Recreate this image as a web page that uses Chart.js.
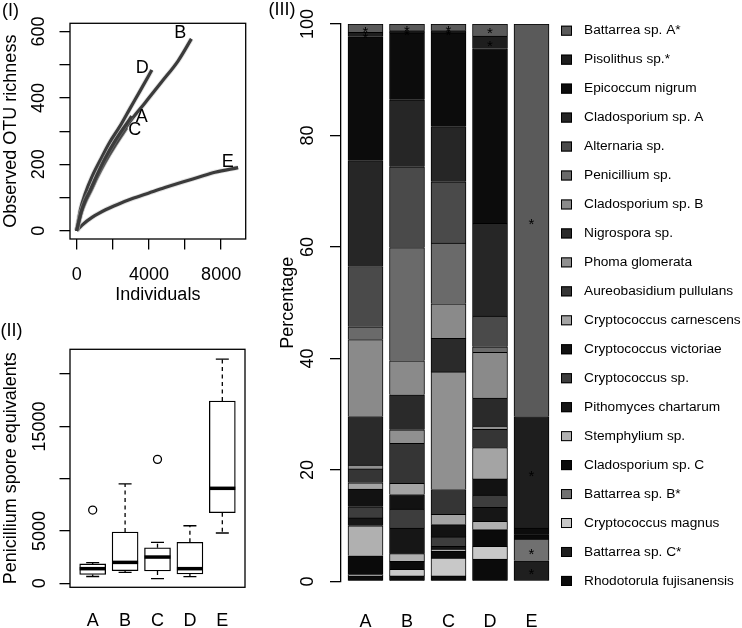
<!DOCTYPE html>
<html>
<head>
<meta charset="utf-8">
<script src="https://cdn.jsdelivr.net/npm/chart.js@4.4.1/dist/chart.umd.min.js"></script>
<style>
  body { margin: 0; background: #fff; }
  #wrap { position: relative; width: 742px; height: 628px; overflow: hidden; background: #fff; }
  canvas { position: absolute; }
  #rare { left: 0; top: 0; }
  #spore { left: 0; top: 310px; }
  #comp { left: 268px; top: 0; }
</style>
</head>
<body>
<div id="wrap">
  <canvas id="rare" width="260" height="310"></canvas>
  <canvas id="spore" width="260" height="318"></canvas>
  <canvas id="comp" width="474" height="628"></canvas>
</div>
<script>
const samples = ['A', 'B', 'C', 'D', 'E'];

// (I) rarefaction curves: [individuals, OTUs]
const curveA = [[0,0],[250,57],[480,92],[750,122],[1125,168],[1590,220],[2140,272],[2600,310],[3050,345]];
const curveB = [[0,0],[250,55],[480,88],[750,118],[1125,163],[1590,213],[2140,262],[2900,325],[3780,385],[4700,448],[5620,512],[6350,578]];
const curveC = [[0,0],[250,55],[480,88],[750,117],[1125,160],[1590,208],[2140,258],[2770,310]];
const curveD = [[0,0],[200,62],[480,113],[850,163],[1310,213],[1790,263],[2400,315],[2950,368],[3520,422],[4160,484]];
const curveE = [[0,0],[300,17],[850,40],[1600,63],[2300,80],[3050,96],[3970,113],[4890,130],[5820,146],[6740,161],[7660,176],[8940,190]];
const indivTicks = [0, 2000, 4000, 6000, 8000];
const indivLabels = [0, 4000, 8000];
const richTicks = [0, 100, 200, 300, 400, 500, 600];
const richLabels = [0, 200, 400, 600];

// (II) Penicillium spore equivalents, box plot stats per sample
const sporeMin = [650, 1050, 440, 630, 4810];
const sporeQ1 = [850, 1200, 1180, 890, 6750];
const sporeMed = [1400, 2000, 2510, 1400, 9080];
const sporeQ3 = [1850, 4900, 3400, 3920, 17430];
const sporeMax = [1970, 9500, 3920, 5500, 21440];
const outlierSample = ['A', 'C'];
const outlierValue = [7000, 11850];
const sporeTicks = [0, 5000, 10000, 15000, 20000];
const sporeLabels = [0, 5000, 15000];

// (III) composition in %, stacked bottom -> top in this order
const taxa = ['Rhodotorula fujisanensis', 'Battarrea sp. C*', 'Cryptococcus magnus', 'Battarrea sp. B*',
  'Cladosporium sp. C', 'Stemphylium sp.', 'Pithomyces chartarum', 'Cryptococcus sp.',
  'Cryptococcus victoriae', 'Cryptococcus carnescens', 'Aureobasidium pullulans', 'Phoma glomerata',
  'Nigrospora sp.', 'Cladosporium sp. B', 'Penicillium sp.', 'Alternaria sp.',
  'Cladosporium sp. A', 'Epicoccum nigrum', 'Pisolithus sp.*', 'Battarrea sp. A*'];
const taxaColors = ['#0b0b0b', '#1f1f1f', '#c8c8c8', '#707070', '#0a0a0a', '#b0b0b0', '#161616', '#3d3d3d',
  '#121212', '#a4a4a4', '#353535', '#909090', '#2a2a2a', '#8a8a8a', '#6a6a6a', '#4a4a4a',
  '#262626', '#0c0c0c', '#1e1e1e', '#5a5a5a'];
const shareA = [1.0, 0, 0.2, 0, 3.4, 5.4, 1.4, 2.0, 3.2, 1.1, 2.5, 0.7, 8.7, 13.8, 2.3, 10.8, 19.0, 22.2, 0.8, 1.5];
const shareB = [1.0, 0, 1.2, 0, 1.4, 1.4, 4.6, 3.4, 2.6, 2.0, 7.2, 2.4, 6.3, 6.1, 20.3, 14.5, 12.0, 12.0, 0.4, 1.2];
const shareC = [1.0, 0, 3.2, 0, 1.2, 0.4, 0.5, 1.7, 2.2, 1.85, 4.45, 21.1, 6.0, 6.2, 10.9, 11.0, 9.9, 16.8, 0.4, 1.2];
const shareD = [4.0, 0, 2.3, 0, 3.0, 1.5, 2.5, 2.2, 2.9, 5.6, 3.3, 0.6, 5.0, 8.2, 1.0, 5.5, 16.65, 31.35, 2.25, 2.15];
const shareE = [0, 3.7, 0, 3.9, 0.8, 0, 0, 0, 0, 0, 0, 0, 0, 0, 0, 0, 0, 1.2, 20.0, 70.4];
const pctTicks = [0, 20, 40, 60, 80, 100];

const FONT = '"Liberation Sans", Arial, Helvetica, sans-serif';
Chart.defaults.font.family = FONT;
Chart.defaults.font.size = 18;
Chart.defaults.color = '#000';
Chart.defaults.animation = false;
Chart.defaults.plugins.legend.display = false;
Chart.defaults.plugins.tooltip.enabled = false;

const setTicks = list => axis => { axis.ticks = list.map(v => ({ value: v })); };
const onlySome = list => v => list.includes(v) ? String(v) : '';
const tickGrid = len => ({ drawOnChartArea: false, tickLength: len, color: '#000', lineWidth: 1.3 });

const frame = {
  id: 'frame',
  afterDraw(chart) {
    const { ctx, chartArea: a } = chart;
    ctx.save();
    ctx.strokeStyle = '#000';
    ctx.lineWidth = 1.3;
    ctx.strokeRect(a.left, a.top, a.right - a.left, a.bottom - a.top);
    ctx.restore();
  }
};

const tag = (text, x, y) => ({
  id: 'tag',
  afterDraw(chart) {
    const ctx = chart.ctx;
    ctx.save();
    ctx.font = '18px ' + FONT;
    ctx.fillStyle = '#000';
    ctx.textAlign = 'center';
    ctx.textBaseline = 'middle';
    ctx.fillText(text, x, y);
    ctx.restore();
  }
});

// ---------- (I) rarefaction ----------
const tagShift = { A: [10, 1], B: [-11, -6], C: [8, 2], D: [-9.5, -2], E: [-10.4, -6] };
const rareSets = [];
[curveA, curveB, curveC, curveD, curveE].forEach((pts, i) => {
  const data = pts.map(([x, y]) => ({ x, y }));
  rareSets.push({ data, borderColor: 'rgba(170,170,170,0.35)', borderWidth: 5, pointRadius: 0, cubicInterpolationMode: 'monotone' });
  rareSets.push({ label: samples[i], data, borderColor: '#000', borderWidth: 3.2, pointRadius: 0, cubicInterpolationMode: 'monotone' });
});

const curveTags = {
  id: 'curveTags',
  afterDatasetsDraw(chart) {
    const ctx = chart.ctx;
    ctx.save();
    ctx.font = '18px ' + FONT;
    ctx.fillStyle = '#000';
    ctx.textAlign = 'center';
    ctx.textBaseline = 'middle';
    chart.data.datasets.forEach((ds, i) => {
      if (!ds.label) return;
      const pts = chart.getDatasetMeta(i).data;
      const end = pts[pts.length - 1];
      const [dx, dy] = tagShift[ds.label];
      ctx.fillText(ds.label, end.x + dx, end.y + dy);
    });
    ctx.restore();
  }
};

new Chart(document.getElementById('rare'), {
  type: 'line',
  data: { datasets: rareSets },
  options: {
    responsive: false,
    maintainAspectRatio: false,
    layout: { autoPadding: false, padding: { left: 0, top: 23.3, right: 14.3, bottom: 4 } },
    scales: {
      x: {
        type: 'linear', min: -370, max: 9360,
        afterBuildTicks: setTicks(indivTicks),
        afterFit: s => { s.height = 67; },
        ticks: { autoSkip: false, maxRotation: 0, padding: 14.7, callback: onlySome(indivLabels) },
        grid: tickGrid(10.5),
        border: { display: false },
        title: { display: true, text: 'Individuals', padding: { top: 0, bottom: 0 } }
      },
      y: {
        type: 'linear', min: -25, max: 625,
        afterBuildTicks: setTicks(richTicks),
        afterFit: s => { s.width = 70; },
        ticks: { autoSkip: false, minRotation: 90, maxRotation: 90, crossAlign: 'center', padding: 5.5, callback: onlySome(richLabels) },
        grid: tickGrid(10.5),
        border: { display: false },
        title: { display: true, text: 'Observed OTU richness', padding: { top: 0, bottom: 0 } }
      }
    }
  },
  plugins: [frame, curveTags, tag('(I)', 10.5, 11.5)]
});

// ---------- (II) box plot ----------
const whiskers = {
  id: 'whiskers',
  afterDatasetsDraw(chart) {
    const { ctx, scales: { x, y } } = chart;
    ctx.save();
    ctx.strokeStyle = '#000';
    samples.forEach((s, i) => {
      const cx = x.getPixelForValue(i + 1);
      ctx.lineWidth = 1.3;
      ctx.setLineDash([4, 3.5]);
      ctx.beginPath();
      ctx.moveTo(cx, y.getPixelForValue(sporeQ3[i]));
      ctx.lineTo(cx, y.getPixelForValue(sporeMax[i]));
      ctx.moveTo(cx, y.getPixelForValue(sporeQ1[i]));
      ctx.lineTo(cx, y.getPixelForValue(sporeMin[i]));
      ctx.stroke();
      ctx.setLineDash([]);
      ctx.beginPath();
      [sporeMax[i], sporeMin[i]].forEach(v => {
        const py = y.getPixelForValue(v);
        ctx.moveTo(cx - 6.5, py);
        ctx.lineTo(cx + 6.5, py);
      });
      ctx.stroke();
      const pm = y.getPixelForValue(sporeMed[i]);
      ctx.lineWidth = 3.5;
      ctx.beginPath();
      ctx.moveTo(cx - 13, pm);
      ctx.lineTo(cx + 13, pm);
      ctx.stroke();
    });
    ctx.restore();
  }
};

new Chart(document.getElementById('spore'), {
  type: 'bar',
  data: {
    datasets: [
      {
        data: samples.map((s, i) => ({ x: i + 1, y: [sporeQ1[i], sporeQ3[i]] })),
        backgroundColor: '#fff', borderColor: '#000', borderWidth: 1.3, borderSkipped: false, barThickness: 26
      },
      {
        type: 'scatter',
        data: outlierSample.map((s, i) => ({ x: samples.indexOf(s) + 1, y: outlierValue[i] })),
        pointRadius: 4, pointBorderWidth: 1.3, pointBorderColor: '#000', pointBackgroundColor: 'rgba(0,0,0,0)'
      }
    ]
  },
  options: {
    responsive: false,
    maintainAspectRatio: false,
    layout: { autoPadding: false, padding: { left: 0, top: 39.3, right: 15, bottom: 0 } },
    scales: {
      x: {
        type: 'linear', min: 0.3, max: 5.7, offset: false,
        afterBuildTicks: setTicks([1, 2, 3, 4, 5]),
        afterFit: s => { s.height = 40.7; },
        ticks: { autoSkip: false, maxRotation: 0, padding: 22.9, callback: v => samples[v - 1] },
        grid: { display: false, drawTicks: false, offset: false },
        border: { display: false }
      },
      y: {
        type: 'linear', min: -382, max: 22371,
        afterBuildTicks: setTicks(sporeTicks),
        afterFit: s => { s.width = 70; },
        ticks: { autoSkip: false, minRotation: 90, maxRotation: 90, crossAlign: 'center', padding: -5.5, callback: onlySome(sporeLabels) },
        grid: tickGrid(10.5),
        border: { display: false },
        title: { display: true, text: 'Penicillium spore equivalents', padding: { top: 0, bottom: 0 } }
      }
    }
  },
  plugins: [frame, whiskers, tag('(II)', 11.5, 21)]
});

// ---------- (III) composition ----------
const shares = [shareA, shareB, shareC, shareD, shareE];
const compSets = taxa.map((name, k) => ({
  label: name,
  data: samples.map((s, j) => ({ x: j + 1, y: shares[j][k] })),
  backgroundColor: taxaColors[k],
  borderColor: '#000',
  borderWidth: 1,
  borderSkipped: 'start',
  barThickness: 35
}));

const stars = {
  id: 'stars',
  afterDatasetsDraw(chart) {
    const ctx = chart.ctx;
    ctx.save();
    ctx.font = '15px ' + FONT;
    ctx.fillStyle = '#000';
    ctx.textAlign = 'center';
    ctx.textBaseline = 'alphabetic';
    chart.data.datasets.forEach((ds, i) => {
      if (!ds.label.endsWith('*')) return;
      chart.getDatasetMeta(i).data.forEach((bar, j) => {
        if (!ds.data[j].y) return;
        ctx.fillText('*', bar.x, (bar.y + bar.base) / 2 + 8.5);
      });
    });
    ctx.restore();
  }
};

const taxaLegend = {
  id: 'taxaLegend',
  afterDraw(chart) {
    const ctx = chart.ctx;
    ctx.save();
    ctx.font = '13.7px ' + FONT;
    ctx.textAlign = 'left';
    ctx.textBaseline = 'middle';
    for (let i = 0; i < taxa.length; i++) {
      const k = taxa.length - 1 - i;
      const y = 30.7 + i * 28.96;
      ctx.fillStyle = taxaColors[k];
      ctx.fillRect(293, y - 5, 11, 10);
      ctx.strokeStyle = '#000';
      ctx.lineWidth = 1;
      ctx.strokeRect(293.5, y - 4.5, 10, 9);
      ctx.fillStyle = '#000';
      ctx.fillText(taxa[k], 316, y);
    }
    ctx.restore();
  }
};

new Chart(document.getElementById('comp'), {
  type: 'bar',
  data: { datasets: compSets },
  options: {
    responsive: false,
    maintainAspectRatio: false,
    layout: { autoPadding: false, padding: { left: 0, top: 24, right: 190, bottom: 0 } },
    scales: {
      x: {
        type: 'linear', min: 0.4096, max: 5.494, stacked: true, offset: false,
        afterBuildTicks: setTicks([1, 2, 3, 4, 5]),
        afterFit: s => { s.height = 46.5; },
        ticks: { autoSkip: false, maxRotation: 0, padding: 29.4, callback: v => samples[v - 1] },
        grid: { display: false, drawTicks: false, offset: false },
        border: { display: false }
      },
      y: {
        type: 'linear', min: 0, max: 100, stacked: true,
        afterBuildTicks: setTicks(pctTicks),
        afterFit: s => { s.width = 73; },
        ticks: { autoSkip: false, minRotation: 90, maxRotation: 90, crossAlign: 'center', padding: 7 },
        grid: tickGrid(11),
        border: { display: true, color: '#000', width: 1.3 },
        title: { display: true, text: 'Percentage', padding: { top: 9.2, bottom: 0 } }
      }
    }
  },
  plugins: [stars, taxaLegend, tag('(III)', 14, 10)]
});
</script>
</body>
</html>
